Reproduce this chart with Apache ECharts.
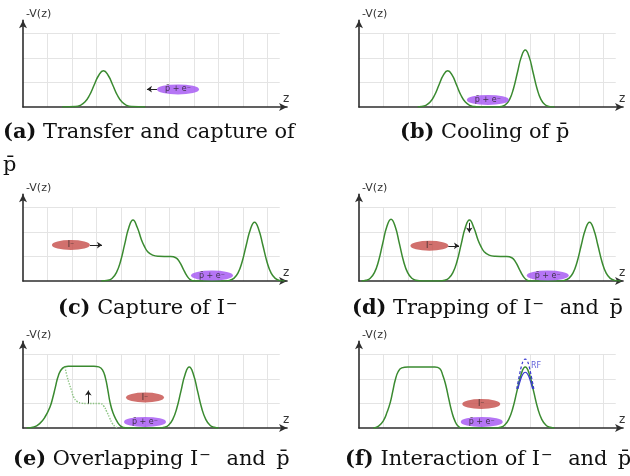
<!DOCTYPE html>
<html><head><meta charset="utf-8">
<script src="https://cdn.jsdelivr.net/npm/echarts@6/dist/echarts.min.js"></script>
<style>html,body{margin:0;padding:0;background:#fff}#c{width:630px;height:476px}</style>
</head><body><div id="c"></div>
<script>
// ---- potential curves (x in grid units, y = -V(z) in grid units) ----
const potentialA = [[1.6,0],[2.15,0.016],[2.34,0.065],[2.53,0.2],[2.72,0.48],[2.91,0.9],[3.10,1.3],[3.29,1.48],[3.48,1.3],[3.67,0.9],[3.86,0.48],[4.05,0.2],[4.24,0.065],[4.43,0.016],[5.0,0]];
const potentialB = [[2.4,0],[2.55,0.016],[2.73,0.065],[2.91,0.2],[3.09,0.48],[3.27,0.9],[3.45,1.3],[3.63,1.48],[3.81,1.3],[3.99,0.9],[4.17,0.48],[4.35,0.2],[4.53,0.065],[4.71,0.016],[4.9,0],[5.7,0],[5.84,0.026],[6.0,0.10],[6.16,0.31],[6.32,0.76],[6.48,1.41],[6.64,2.05],[6.8,2.33],[6.96,2.05],[7.12,1.41],[7.28,0.76],[7.44,0.31],[7.6,0.10],[7.76,0.026],[8.0,0]];
const potentialC = [[3.2,0],[3.48,0.027],[3.65,0.11],[3.82,0.34],[3.99,0.81],[4.16,1.51],[4.33,2.19],[4.5,2.49],[4.67,2.2],[4.84,1.7],[4.95,1.45],[5.1,1.2],[5.3,1.06],[5.55,1.01],[6.0,1.0],[6.25,0.95],[6.4,0.78],[6.55,0.5],[6.7,0.22],[6.85,0.05],[7.0,0],[8.2,0],[8.45,0.026],[8.62,0.106],[8.79,0.32],[8.96,0.78],[9.13,1.46],[9.3,2.11],[9.47,2.4],[9.64,2.11],[9.81,1.46],[9.98,0.78],[10.15,0.32],[10.32,0.106],[10.49,0.026],[10.7,0]];
const potentialD = [[0.1,0],[0.29,0.028],[0.46,0.11],[0.63,0.34],[0.8,0.82],[0.97,1.54],[1.14,2.23],[1.31,2.53],[1.48,2.23],[1.65,1.54],[1.82,0.82],[1.99,0.34],[2.16,0.11],[2.33,0.028],[2.6,0],[3.3,0],[3.5,0.027],[3.67,0.11],[3.84,0.34],[4.01,0.81],[4.18,1.51],[4.35,2.19],[4.52,2.49],[4.69,2.2],[4.86,1.7],[4.97,1.45],[5.12,1.2],[5.32,1.06],[5.57,1.01],[6.0,1.0],[6.25,0.95],[6.4,0.78],[6.55,0.5],[6.7,0.22],[6.85,0.05],[7.0,0],[8.15,0],[8.41,0.026],[8.58,0.106],[8.75,0.32],[8.92,0.78],[9.09,1.46],[9.26,2.11],[9.43,2.4],[9.6,2.11],[9.77,1.46],[9.94,0.78],[10.11,0.32],[10.28,0.106],[10.45,0.026],[10.7,0]];
const potentialE = [[0.15,0],[0.45,0.04],[0.7,0.2],[0.9,0.45],[1.1,0.85],[1.22,1.25],[1.32,1.65],[1.45,2.15],[1.62,2.45],[1.85,2.53],[2.2,2.53],[2.9,2.53],[3.1,2.5],[3.25,2.38],[3.37,2.05],[3.47,1.55],[3.56,1.05],[3.68,0.62],[3.82,0.32],[3.95,0.12],[4.1,0.02],[4.3,0],[5.6,0],[5.78,0.027],[5.95,0.11],[6.12,0.34],[6.29,0.81],[6.46,1.51],[6.63,2.19],[6.8,2.49],[6.97,2.19],[7.14,1.51],[7.31,0.81],[7.48,0.34],[7.65,0.11],[7.82,0.027],[8.0,0]];
const earlierE = [[1.72,2.5],[1.78,2.2],[1.88,1.85],[1.98,1.55],[2.08,1.25],[2.22,1.08],[2.4,1.02],[2.6,1.0],[3.15,1.0],[3.3,0.9],[3.42,0.68],[3.54,0.42],[3.66,0.18],[3.78,0.05],[3.9,0]];
const potentialF = [[0.58,0],[0.8,0.08],[1.0,0.3],[1.15,0.65],[1.28,1.05],[1.38,1.5],[1.48,1.95],[1.6,2.3],[1.75,2.46],[2.0,2.5],[3.1,2.5],[3.3,2.43],[3.43,2.15],[3.55,1.75],[3.67,1.2],[3.8,0.65],[3.93,0.27],[4.05,0.08],[4.2,0],[5.6,0],[5.78,0.027],[5.95,0.11],[6.12,0.34],[6.29,0.81],[6.46,1.51],[6.63,2.19],[6.8,2.49],[6.97,2.19],[7.14,1.51],[7.31,0.81],[7.48,0.34],[7.65,0.11],[7.82,0.027],[8.0,0]];
const rfRaised = [[6.45,1.6],[6.55,2.1],[6.65,2.55],[6.73,2.76],[6.8,2.82],[6.87,2.76],[6.95,2.55],[7.05,2.1],[7.15,1.6]];
const rfLowered = [[6.5,1.6],[6.6,1.95],[6.7,2.2],[6.8,2.28],[6.9,2.2],[7.0,1.95],[7.1,1.6]];
const rfLabelPos = [6.95, 2.52];

// ---- particle clouds, one entry per panel a..f ----
const antiprotonClouds = [[6.34,0.72],[5.27,0.29],[7.73,0.22],[7.72,0.22],[4.99,0.25],[5.02,0.25]];
const ionClouds = [null,null,[1.96,1.47],[2.88,1.44],[4.99,1.25],[5.0,0.98]];
const antiprotonLabel = 'p\u0304 + e\u207B';
const ionLabel = 'I\u207B';

// ---- arrows per panel: [[x1,y1],[x2,y2]] ----
const arrowsA = [[[5.48,0.73],[5.07,0.73]]];
const arrowsC = [[[2.74,1.47],[3.23,1.47]]];
const arrowsD = [[[3.65,1.44],[4.09,1.44]],[[4.51,2.38],[4.51,1.98]]];
const arrowsE = [[[2.67,1.0],[2.67,1.53]]];

// ---- captions ----
const captionTags = ['(a)','(b)','(c)','(d)','(e)','(f)'];
const captionTexts = ['Transfer and capture of','Cooling of p\u0304','Capture of I\u207B','Trapping of I\u207B and p\u0304','Overlapping I\u207B and p\u0304','Interaction of I\u207B and p\u0304'];
const captionExtraLine = 'p\u0304';

// ---- layout ----
const U = 24.45;
const origins = [[23,107],[359,107],[23,281],[359,281],[23,428],[359,428]];
const captionPos = [[3,121],[400,121],[58,297],[352,297],[13,448],[345,448]];
const GREEN = '#3a8a30';

const grids = [], xAxes = [], yAxes = [], series = [], titles = [];
const panelCurves = [potentialA, potentialB, potentialC, potentialD, potentialE, potentialF];
const panelArrows = [arrowsA, [], arrowsC, arrowsD, arrowsE, []];

function richCaption(tag, txt) {
  let t = txt.replace(/ and p\u0304/g, '\u2002and\u2002p\u0304');
  t = t.replace(/I\u207B/g, 'I}{sup|\u2212}{n|');
  return '{b|' + tag + '} {n|' + t + '}';
}

origins.forEach(([ox, oy], i) => {
  const m = 2*i, g = 2*i+1;
  grids.push({left: ox, top: oy - 3.55*U, width: 10.8*U, height: 3.55*U});
  grids.push({left: ox, top: oy - 3*U, width: 10.5*U, height: 3*U});
  const axLine = {show: true, onZero: false, symbol: ['none','arrow'], symbolSize: [6,8], lineStyle: {color: '#2e2e2e', width: 1.6}};
  xAxes.push({gridIndex: m, type: 'value', min: 0, max: 10.8, axisLine: axLine, axisTick: {show: false}, axisLabel: {show: false}, splitLine: {show: false},
    name: 'z', nameLocation: 'end', nameGap: -1, nameTextStyle: {fontFamily: 'DejaVu Sans', fontSize: 12, color: '#333', align: 'center', verticalAlign: 'bottom', padding: [0,0,2,0]}});
  yAxes.push({gridIndex: m, type: 'value', min: 0, max: 3.55, axisLine: axLine, axisTick: {show: false}, axisLabel: {show: false}, splitLine: {show: false},
    name: '-V(z)', nameLocation: 'end', nameGap: 1, nameTextStyle: {fontFamily: 'DejaVu Sans', fontSize: 11, color: '#333', align: 'left', verticalAlign: 'bottom', padding: [0,0,0,3]}});
  const sl = {show: true, showMinLine: false, lineStyle: {color: '#e4e4e4', width: 1}};
  xAxes.push({gridIndex: g, type: 'value', min: 0, max: 10.5, interval: 1, axisLine: {show: false}, axisTick: {show: false}, axisLabel: {show: false}, splitLine: Object.assign({}, sl, {showMaxLine: false})});
  yAxes.push({gridIndex: g, type: 'value', min: 0, max: 3, interval: 1, axisLine: {show: false}, axisTick: {show: false}, axisLabel: {show: false}, splitLine: Object.assign({}, sl, {showMaxLine: true})});

  series.push({type: 'line', xAxisIndex: m, yAxisIndex: m, data: panelCurves[i], showSymbol: false, smooth: 0.5, lineStyle: {color: GREEN, width: 1.5}, z: 3});
  if (i === 4) series.push({type: 'line', xAxisIndex: m, yAxisIndex: m, data: earlierE, showSymbol: false, smooth: 0.5, lineStyle: {color: '#8cc482', width: 1.4, type: 'dotted'}, z: 3});
  if (i === 5) {
    series.push({type: 'line', xAxisIndex: m, yAxisIndex: m, data: rfRaised, showSymbol: false, smooth: 0.5, lineStyle: {color: '#3838d0', width: 1.2, type: [3,2]}, z: 4});
    series.push({type: 'line', xAxisIndex: m, yAxisIndex: m, data: rfLowered, showSymbol: false, smooth: 0.5, lineStyle: {color: '#3838d0', width: 1.2}, z: 4});
    series.push({type: 'scatter', xAxisIndex: m, yAxisIndex: m, symbolSize: 0, data: [{name: 'RF', value: rfLabelPos}],
      label: {show: true, position: 'right', distance: 2, formatter: '{b}', fontFamily: 'DejaVu Sans', fontSize: 8, color: '#3838d0'}, z: 5});
  }
  if (panelArrows[i].length) series.push({type: 'lines', coordinateSystem: 'cartesian2d', xAxisIndex: m, yAxisIndex: m,
    symbol: ['none','arrow'], symbolSize: 5, lineStyle: {color: '#222', width: 1, opacity: 1, curveness: 0},
    data: panelArrows[i].map(c => ({coords: c})), z: 6});
  const clouds = [];
  if (ionClouds[i]) clouds.push({name: ionLabel, value: ionClouds[i], symbolSize: [38,10], itemStyle: {color: '#c64c48'}});
  clouds.push({name: antiprotonLabel, value: antiprotonClouds[i], symbolSize: [42,10], itemStyle: {color: '#a352f2'}});
  series.push({type: 'scatter', xAxisIndex: m, yAxisIndex: m, symbol: 'circle', data: clouds,
    label: {show: true, position: 'inside', formatter: '{b}', fontFamily: 'DejaVu Sans', fontSize: 8, color: '#222'}, z: 7});

  const fs = 20.9;
  const ts = {fontFamily: 'DejaVu Serif', fontSize: fs, lineHeight: 24, color: '#111', fontWeight: 'normal'};
  const sup = {fontFamily: 'DejaVu Serif', fontSize: 14, lineHeight: 13, verticalAlign: 'top', color: '#111', padding: [0,5,0,1]};
  titles.push({left: captionPos[i][0], top: captionPos[i][1], padding: 0,
    text: richCaption(captionTags[i], captionTexts[i]),
    textStyle: {fontFamily: 'DejaVu Serif', fontSize: fs, fontWeight: 'normal', rich: {b: Object.assign({}, ts, {fontWeight: 'bold'}), n: ts, sup: sup}}});
  if (i === 0) titles.push({left: captionPos[0][0], top: captionPos[0][1] + 33, padding: 0, text: '{n|' + captionExtraLine + '}',
    textStyle: {fontFamily: 'DejaVu Serif', fontSize: fs, fontWeight: 'normal', rich: {n: ts}}});
});

const chart = echarts.init(document.getElementById('c'), null, {renderer: 'canvas'});
chart.setOption({animation: false, backgroundColor: '#fff', title: titles, grid: grids, xAxis: xAxes, yAxis: yAxes, series: series});
</script></body></html>
